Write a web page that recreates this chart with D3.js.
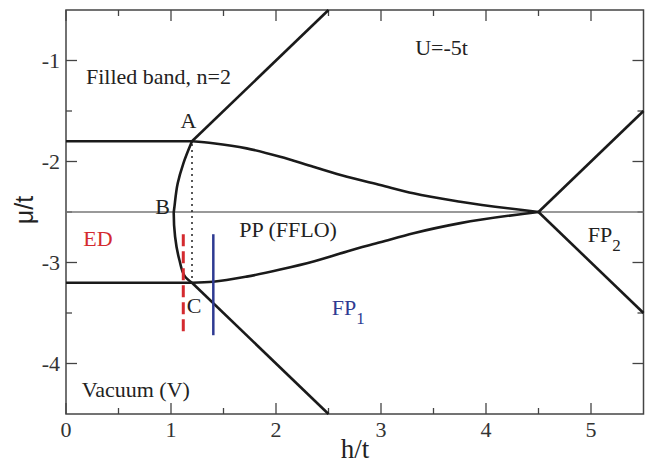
<!DOCTYPE html>
<html><head><meta charset="utf-8">
<script src="https://cdn.jsdelivr.net/npm/d3@7"></script>
<style>
body{margin:0;background:#fff;}
svg{display:block;}
text{font-family:"Liberation Serif","Times New Roman",serif;}
</style></head>
<body><div id="chart"></div>
<script>
// ---- data ----
const xDomain = [0, 5.5];
const yDomain = [-4.5, -0.5];
const xTicks = [0, 1, 2, 3, 4, 5];
const xMinorTicks = [0.5, 1.5, 2.5, 3.5, 4.5];
const yTicks = [-1, -2, -3, -4];
const yMinorTicks = [-1.5, -2.5, -3.5];

const filledEdge = [[0, -1.8], [1.2, -1.8]];
const vacuumEdge = [[0, -3.2], [1.2, -3.2]];
const lineA = [[1.2, -1.8], [2.5, -0.5]];
const lineC = [[1.2, -3.2], [2.5, -4.5]];
const fp2Upper = [[4.5, -2.5], [5.5, -1.5]];
const fp2Lower = [[4.5, -2.5], [5.5, -3.5]];
const upperPP = [[1.2, -1.8], [1.4, -1.82], [1.72, -1.87], [2.04, -1.953], [2.355, -2.052], [2.676, -2.151],
                 [2.993, -2.233], [3.308, -2.315], [3.756, -2.398], [4.5, -2.5]];
const lowerPP = [[1.2, -3.2], [1.4, -3.19], [1.72, -3.14], [2.04, -3.07], [2.357, -2.99], [2.676, -2.89],
                 [2.993, -2.80], [3.31, -2.71], [3.756, -2.61], [4.5, -2.5]];
const bCurve = [[1.2, -1.8], [1.118, -2.018], [1.064, -2.216], [1.033, -2.447], [1.026, -2.513],
                [1.039, -2.745], [1.08, -2.975], [1.134, -3.14], [1.2, -3.2]];
const midLine = [[0, -2.5], [5.5, -2.5]];
const dottedLine = [[1.2, -1.8], [1.2, -3.2]];
const redDashed = [[1.117, -2.72], [1.117, -3.68]];
const blueLine = [[1.403, -2.72], [1.403, -3.72]];

const labels = [
  {t: "Filled band, n=2", x: 0.19, y: -1.235, c: "#222"},
  {t: "U=-5t", x: 3.325, y: -0.947, c: "#222"},
  {t: "A", x: 1.09, y: -1.665, c: "#222"},
  {t: "B", x: 0.85, y: -2.515, c: "#222"},
  {t: "C", x: 1.15, y: -3.497, c: "#222"},
  {t: "ED", x: 0.165, y: -2.832, c: "#d42a2f"},
  {t: "PP (FFLO)", x: 1.65, y: -2.75, c: "#222"},
  {t: "Vacuum (V)", x: 0.15, y: -4.33, c: "#222"}
];
const subLabels = [
  {t: "FP", s: "1", x: 2.53, y: -3.52, c: "#2e3a92"},
  {t: "FP", s: "2", x: 4.97, y: -2.797, c: "#222"}
];

// ---- layout ----
const W = 649, H = 466;
const m = {l: 66, r: 5.5, t: 10, b: 52};
const svg = d3.select("#chart").append("svg").attr("width", W).attr("height", H);
const x = d3.scaleLinear().domain(xDomain).range([m.l, W - m.r]);
const y = d3.scaleLinear().domain(yDomain).range([H - m.b, m.t]);
const fs = 22;

const axisColor = "#444";
svg.append("rect").attr("x", x(0)).attr("y", y(-0.5)).attr("width", x(5.5) - x(0)).attr("height", y(-4.5) - y(-0.5))
  .attr("fill", "none").attr("stroke", axisColor).attr("stroke-width", 1.5);

function tickLines(vals, len, isX) {
  vals.forEach(v => {
    if (isX) {
      svg.append("line").attr("x1", x(v)).attr("x2", x(v)).attr("y1", y(-4.5)).attr("y2", y(-4.5) - len).attr("stroke", axisColor).attr("stroke-width", 1.3);
      svg.append("line").attr("x1", x(v)).attr("x2", x(v)).attr("y1", y(-0.5)).attr("y2", y(-0.5) + len).attr("stroke", axisColor).attr("stroke-width", 1.3);
    } else {
      svg.append("line").attr("y1", y(v)).attr("y2", y(v)).attr("x1", x(0)).attr("x2", x(0) + len).attr("stroke", axisColor).attr("stroke-width", 1.3);
      svg.append("line").attr("y1", y(v)).attr("y2", y(v)).attr("x1", x(5.5)).attr("x2", x(5.5) - len).attr("stroke", axisColor).attr("stroke-width", 1.3);
    }
  });
}
tickLines(xTicks, 11, true);
tickLines(xMinorTicks, 6, true);
tickLines(yTicks, 11, false);
tickLines(yMinorTicks, 6, false);

svg.append("g").selectAll("text").data(xTicks).join("text")
  .attr("x", d => x(d)).attr("y", y(-4.5) + 23).attr("text-anchor", "middle")
  .attr("font-size", 22).attr("fill", "#333").text(d => String(d));
svg.append("g").selectAll("text").data(yTicks).join("text")
  .attr("x", x(0) - 6).attr("y", d => y(d)).attr("dy", "0.35em").attr("text-anchor", "end")
  .attr("font-size", 22).attr("fill", "#333").text(d => String(d));

svg.append("text").attr("x", 355).attr("y", 458).attr("text-anchor", "middle").attr("font-size", 27).attr("fill", "#222").text("h/t");
svg.append("text").attr("transform", "translate(33,210) rotate(-90)").attr("text-anchor", "middle")
  .attr("font-size", 25).attr("fill", "#222").style("font-family", "'Liberation Sans',Arial,sans-serif").text("μ/t");

const line = d3.line().x(d => x(d[0])).y(d => y(d[1]));
svg.append("path").datum(midLine).attr("d", line).attr("fill", "none").attr("stroke", "#777").attr("stroke-width", 1.4);

const black = (data, curve) => svg.append("path").datum(data)
  .attr("d", curve ? d3.line().x(d => x(d[0])).y(d => y(d[1])).curve(curve) : line)
  .attr("fill", "none").attr("stroke", "#1a1a1a").attr("stroke-width", 2.6);
black(filledEdge); black(vacuumEdge); black(lineA); black(lineC); black(fp2Upper); black(fp2Lower);
black(upperPP, d3.curveMonotoneX); black(lowerPP, d3.curveMonotoneX); black(bCurve, d3.curveMonotoneY);

svg.append("path").datum(dottedLine).attr("d", line).attr("fill", "none").attr("stroke", "#222")
  .attr("stroke-width", 2).attr("stroke-dasharray", "1.5,4.5").attr("stroke-dashoffset", -3);
svg.append("path").datum(redDashed).attr("d", line).attr("fill", "none").attr("stroke", "#d42a2f")
  .attr("stroke-width", 3).attr("stroke-dasharray", "12,5");
svg.append("path").datum(blueLine).attr("d", line).attr("fill", "none").attr("stroke", "#2e3a92")
  .attr("stroke-width", 2.5);

svg.append("g").selectAll("text").data(labels).join("text")
  .attr("x", d => x(d.x)).attr("y", d => y(d.y)).attr("font-size", fs).attr("fill", d => d.c).text(d => d.t);
subLabels.forEach(d => {
  const t = svg.append("text").attr("x", x(d.x)).attr("y", y(d.y)).attr("font-size", fs).attr("fill", d.c);
  t.append("tspan").text(d.t);
  t.append("tspan").attr("dy", 9).attr("font-size", 17).text(d.s);
});
</script></body></html>
